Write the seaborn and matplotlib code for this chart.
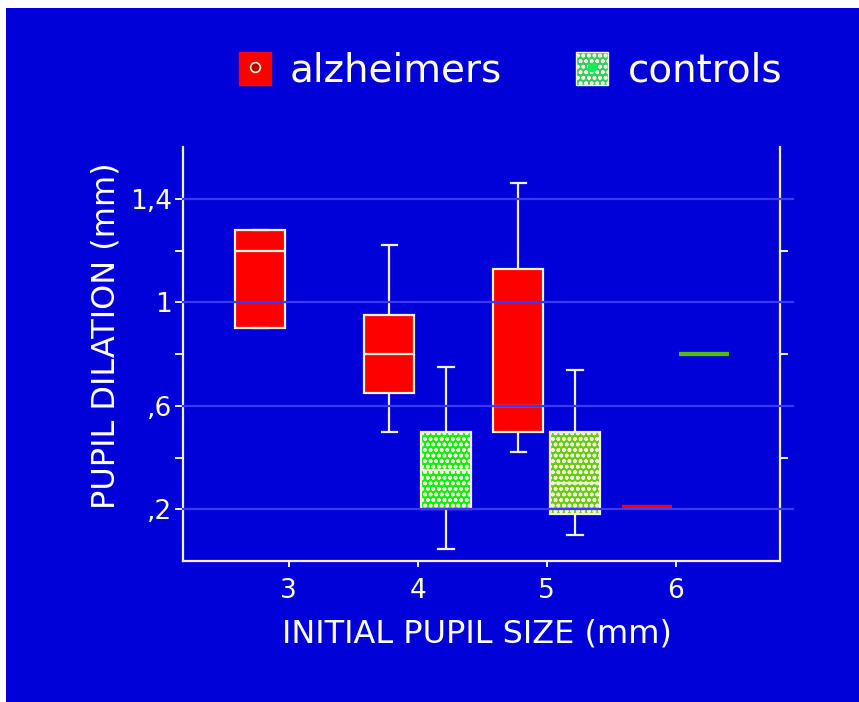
import numpy as np
import pandas as pd
import seaborn as sns
import matplotlib.pyplot as plt
from matplotlib.patches import Patch, Rectangle
from matplotlib.lines import Line2D
from matplotlib.legend_handler import HandlerTuple

# Initial pupil size categories (mm) and the two patient groups
sizes = ["3", "4", "5", "6"]
groups = ["alzheimers", "controls"]

# Five-number summaries of pupil dilation (mm): min, q1, median, q3, max
alz_3 = [0.90, 0.90, 1.20, 1.28, 1.28]
alz_4 = [0.50, 0.65, 0.80, 0.95, 1.22]
alz_5 = [0.42, 0.50, 0.60, 1.13, 1.46]
alz_6 = [0.21, 0.21, 0.21, 0.21, 0.21]
ctl_4 = [0.045, 0.20, 0.35, 0.50, 0.75]
ctl_5 = [0.10, 0.18, 0.30, 0.50, 0.74]
ctl_6 = [0.80, 0.80, 0.80, 0.80, 0.80]

ytick_values = [0.2, 0.6, 1.0, 1.4]
ytick_labels = [",2", ",6", "1", "1,4"]
yminor_values = [0.4, 0.8, 1.2]

records = []
for grp, size, vals in [
    ("alzheimers", "3", alz_3), ("alzheimers", "4", alz_4),
    ("alzheimers", "5", alz_5), ("alzheimers", "6", alz_6),
    ("controls", "4", ctl_4), ("controls", "5", ctl_5), ("controls", "6", ctl_6),
]:
    for v in vals:
        records.append({"group": grp, "size": size, "dilation": v})
df = pd.DataFrame(records)

BG = "#0000d8"
EDGE = "#f3f0dc"
GRID = "#3a3aff"
TICKTXT = "#ffffc8"
RED = "#ff0000"
control_shades = {"4": "#10ee10", "5": "#66cc11", "6": "#55bb11"}

plt.rcParams["font.family"] = ["DejaVu Sans"]
plt.rcParams["hatch.linewidth"] = 1.1

fig = plt.figure(figsize=(8.59, 7.02), dpi=100, facecolor="white")
fig.patches.append(Rectangle((6 / 859, 0), 1, 1 - 8 / 702, transform=fig.transFigure,
                             facecolor=BG, edgecolor="none", zorder=-10))
ax = fig.add_axes([183 / 859, 141 / 702, 597 / 859, 414 / 702])
ax.set_facecolor(BG)

sns.boxplot(data=df, x="size", y="dilation", hue="group", order=sizes, hue_order=groups,
            palette={"alzheimers": RED, "controls": control_shades["4"]},
            width=0.88, gap=0.12, whis=(0, 100), linecolor=EDGE, linewidth=1.6,
            showfliers=False, capwidths=0.12, saturation=1, legend=False, ax=ax)

# Per-box styling: dotted controls, flat boxes drawn as solid coloured bars
for cont in ax.containers:
    for i, box in enumerate(cont.boxes):
        v = box.get_path().vertices
        xc = (v[:, 0].min() + v[:, 0].max()) / 2
        idx = int(round(xc))
        is_ctl = xc > idx
        flat = (v[:, 1].max() - v[:, 1].min()) < 1e-9
        face = control_shades[sizes[idx]] if is_ctl else RED
        box.set_facecolor(face)
        med = cont.medians[i]
        extra = list(cont.whiskers[2 * i:2 * i + 2]) + list(cont.caps[2 * i:2 * i + 2])
        if flat:
            box.set_edgecolor(face)
            box.set_linewidth(3)
            med.set_color(face)
            med.set_linewidth(3)
            for a in extra:
                a.set_visible(False)
        elif is_ctl:
            box.set_hatch("ooo")
            box.set_edgecolor(EDGE)

ax.set_xlim(-0.82, 3.81)
ax.set_ylim(0, 1.6)
ax.set_yticks(ytick_values, ytick_labels)
ax.set_yticks(yminor_values, minor=True)

for v in ytick_values:
    ax.axhline(v, xmin=0, xmax=1.022, color=GRID, lw=1.6, zorder=5, clip_on=False)

for side in ["left", "right", "bottom"]:
    ax.spines[side].set_color(EDGE)
    ax.spines[side].set_linewidth(1.6)
ax.spines["top"].set_visible(False)
ax.tick_params(axis="both", which="both", colors=EDGE, direction="out", width=1.4,
               labelcolor=TICKTXT, labelsize=19)
ax.tick_params(axis="y", which="both", length=6, right=True, labelright=False, pad=2)
ax.tick_params(axis="x", length=4, pad=8)

ax.set_xlabel("INITIAL PUPIL SIZE (mm)", color="white", fontsize=23)
ax.set_ylabel("PUPIL DILATION (mm)", color="white", fontsize=23)
ax.xaxis.label.set_va("center")
ax.yaxis.label.set_va("center")
ax.xaxis.set_label_coords((477 - 183) / 597, (561 - 634) / 414)
ax.yaxis.set_label_coords((106 - 183) / 597, (561 - 336) / 414)

h_alz = (Patch(facecolor=RED, edgecolor=RED),
         Line2D([], [], ls="none", marker="o", ms=7, mfc="#b00000", mec=EDGE, mew=1.2))
h_ctl = (Patch(facecolor="#33cc66", edgecolor=EDGE, hatch="ooo"),
         Line2D([], [], ls="none", marker="o", ms=6, mfc="#11ee55", mec="#11ee55"))
fig.legend([h_alz, h_ctl], groups, handler_map={tuple: HandlerTuple(ndivide=1, pad=0)},
           ncol=2, loc="center", bbox_to_anchor=((238 + 783) / 2 / 859, 1 - 71 / 702),
           frameon=False, fontsize=28, labelcolor="#ffffd8", handlelength=0.82,
           handleheight=0.9, handletextpad=0.5, columnspacing=1.9)

fig.savefig("out.png", dpi=100, facecolor=fig.get_facecolor())
